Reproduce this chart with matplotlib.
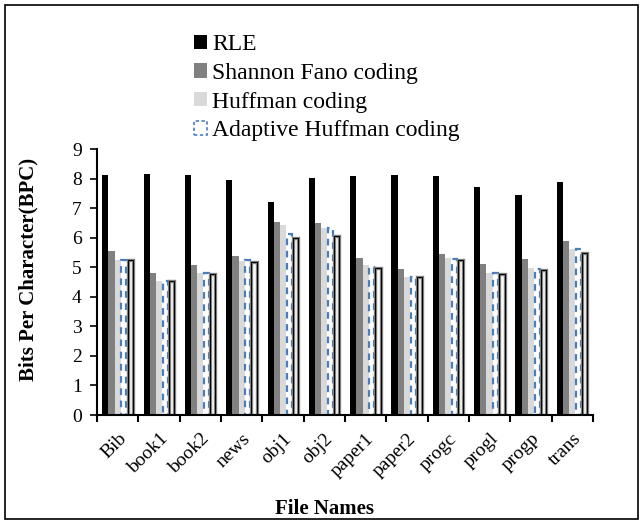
import matplotlib
matplotlib.use("Agg")
import matplotlib.pyplot as plt
import matplotlib.transforms as mtransforms
import numpy as np
from matplotlib.patches import Patch, Rectangle

files = ["Bib", "book1", "book2", "news", "obj1", "obj2", "paper1", "paper2",
         "progc", "progl", "progp", "trans"]
rle = [8.14, 8.15, 8.14, 7.97, 7.20, 8.02, 8.10, 8.12, 8.10, 7.71, 7.46, 7.88]
shannon = [5.56, 4.81, 5.07, 5.39, 6.55, 6.50, 5.33, 4.94, 5.46, 5.11, 5.28, 5.88]
huffman = [5.25, 4.55, 4.81, 5.23, 6.44, 6.32, 5.08, 4.67, 5.31, 4.82, 4.97, 5.62]
adaptive = [5.25, 4.53, 4.82, 5.25, 6.12, 6.33, 5.03, 4.67, 5.28, 4.82, 4.94, 5.62]
fifth = [5.24, 4.55, 4.78, 5.19, 5.99, 6.08, 4.99, 4.66, 5.25, 4.77, 4.92, 5.50]
yticks = list(range(0, 10))

plt.rcParams['font.family'] = ['Liberation Serif', 'DejaVu Serif']

fig = plt.figure(figsize=(6.43, 5.24), dpi=100)
ax = fig.add_axes([0.151, 0.208, 0.771, 0.507])

x = np.arange(len(files))
w = 0.15
ax.bar(x - 2 * w, rle, w, color='black', label='RLE')
ax.bar(x - 1 * w, shannon, w, color='#808080', label='Shannon Fano coding')
ax.bar(x, huffman, w, color='#d9d9d9', label='Huffman coding')
ax.bar(x + 1 * w, adaptive, w * 0.8, color='white', edgecolor='#4a7ebb',
       linewidth=1.6, linestyle=(0, (3, 2.5)), label='Adaptive Huffman coding')
ax.bar(x + 2 * w, fifth, w * 0.85, color='white', edgecolor='#7f7f7f',
       linewidth=2.4)
ax.bar(x + 2 * w, fifth, w * 0.85, color='none', edgecolor='black',
       linewidth=0.7)

ax.set_xlim(-0.5, len(files) - 0.5)
ax.set_ylim(0, 9)
ax.set_yticks(yticks)
ax.set_xticks(x)
ax.set_xticklabels(files, rotation=45, ha='right', rotation_mode='anchor', fontsize=14)
offset = mtransforms.ScaledTranslation(3 / 100, 0, fig.dpi_scale_trans)
for lbl in ax.get_xticklabels():
    lbl.set_transform(lbl.get_transform() + offset)
ax.set_xticks(np.arange(len(files) + 1) - 0.5, minor=True)
ax.tick_params(axis='x', which='major', length=0, pad=11)
ax.tick_params(axis='x', which='minor', length=5, width=1.5, direction='out')
ax.tick_params(axis='y', length=5, width=1.2, direction='out', labelsize=14, pad=6)

for s in ['top', 'right']:
    ax.spines[s].set_visible(False)
ax.spines['left'].set_linewidth(1.5)
ax.spines['bottom'].set_linewidth(1.5)

ax.set_ylabel('Bits Per Character(BPC)', fontsize=15, fontweight='bold')
ax.yaxis.set_label_coords(-0.118, 0.547)
ax.set_xlabel('File Names', fontsize=15, fontweight='bold')
ax.xaxis.set_label_coords(0.458, -0.318)

handles = [Patch(facecolor='black', edgecolor='none'),
           Patch(facecolor='#808080', edgecolor='none'),
           Patch(facecolor='#d9d9d9', edgecolor='none'),
           Patch(facecolor='white', edgecolor='#4a7ebb', linestyle=(0, (2, 1.5)), linewidth=1.2)]
labels = ['RLE', 'Shannon Fano coding', 'Huffman coding', 'Adaptive Huffman coding']
leg = fig.legend(handles, labels, loc='upper left', bbox_to_anchor=(0.302, 0.935),
                 frameon=False, fontsize=17, handlelength=0.55, handleheight=0.55,
                 handletextpad=0.22, labelspacing=0.33, borderaxespad=0, borderpad=0)

fig.patches.append(Rectangle((5 / 643, 5 / 524), 633 / 643, 514 / 524, transform=fig.transFigure,
                             fill=False, edgecolor='black', linewidth=1.2))

fig.savefig('out.png', dpi=100)
